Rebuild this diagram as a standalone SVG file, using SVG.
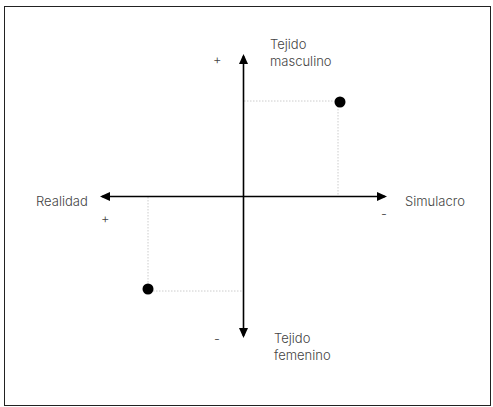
<svg xmlns="http://www.w3.org/2000/svg" width="493" height="407" viewBox="0 0 493 407">
<style>
text{font-family:Inter,"Liberation Sans",sans-serif;font-size:13px;font-weight:300;fill:#444}
.ax{stroke:#000;stroke-width:1.6;fill:none}
.dot{stroke:#ccc;stroke-width:1;stroke-dasharray:1.5 1.5;fill:none}
</style>
<defs>
<marker id="ah" markerWidth="10" markerHeight="10" refX="8" refY="5" orient="auto-start-reverse" markerUnits="userSpaceOnUse">
<path d="M0,0.5 L10,5 L0,9.5 Z" fill="#000"/>
</marker>
</defs>
<rect x="4.5" y="6.5" width="486" height="399" fill="#fff" stroke="#222" stroke-width="1"/>
<g id="guides">
<path class="dot" d="M244,101 H338 V196"/>
<path class="dot" d="M148,197 V291 H243"/>
</g>
<g id="connectors">
<line class="ax" x1="243.5" y1="56" x2="243.5" y2="336" marker-start="url(#ah)" marker-end="url(#ah)"/>
<line class="ax" x1="102" y1="196.5" x2="385" y2="196.5" marker-start="url(#ah)" marker-end="url(#ah)"/>
</g>
<g id="point1"><circle cx="340" cy="102" r="5.5" fill="#000"/></g>
<g id="point2"><circle cx="148" cy="289" r="5.5" fill="#000"/></g>
<g id="top"><text x="270" y="49">Tejido</text><text x="270" y="66">masculino</text><text x="213" y="64">+</text></g>
<g id="bottom"><text x="274" y="343">Tejido</text><text x="274" y="360">femenino</text><text x="214" y="344">-</text></g>
<g id="left"><text x="36" y="206">Realidad</text><text x="101" y="223">+</text></g>
<g id="right"><text x="405" y="206">Simulacro</text><text x="381" y="219">-</text></g>
</svg>
